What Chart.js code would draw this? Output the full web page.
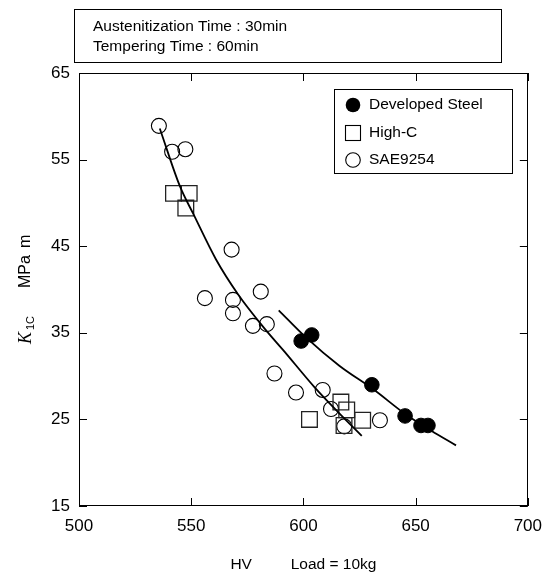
<!DOCTYPE html>
<html>
<head>
<meta charset="utf-8">
<script src="https://cdn.jsdelivr.net/npm/chart.js@4.4.0/dist/chart.umd.min.js"></script>
<style>
  html, body { margin: 0; padding: 0; background: #fff; }
  #wrap { width: 552px; height: 572px; }
</style>
</head>
<body>
<div id="wrap"><canvas id="toughChart" width="552" height="572"></canvas></div>
<script>
// hardness (HV) vs fracture toughness K1C
const developedHV = [599.0, 603.7, 630.5, 645.3, 652.4, 655.5];
const developedK = [34.05, 34.75, 29.0, 25.4, 24.3, 24.3];
const highCHV = [542.1, 549.1, 547.6, 602.7, 616.7, 619.3, 618.1, 626.4];
const highCK = [51.1, 51.1, 49.4, 25.0, 27.0, 26.1, 24.3, 24.9];
const saeHV = [535.6, 541.5, 547.4, 568.0, 556.1, 568.6, 568.6, 581.0, 577.5, 583.7, 587.1, 596.7, 608.6, 612.3, 618.2, 634.1];
const saeK = [58.9, 55.9, 56.2, 44.6, 39.0, 38.8, 37.25, 39.75, 35.8, 36.0, 30.3, 28.1, 28.4, 26.2, 24.2, 24.9];

// the two fitted curves
const saeFitHV = [536, 545, 551, 561, 571, 583, 591, 605, 616, 626];
const saeFitK = [58.6, 51.9, 48.7, 43.5, 39.4, 35.4, 33.0, 28.7, 25.7, 23.1];
const devFitHV = [589, 601, 616, 631, 646, 657, 668];
const devFitK = [37.6, 34.5, 31.2, 28.5, 25.5, 23.7, 22.0];

const xTicks = [500, 550, 600, 650, 700];
const yTicks = [15, 25, 35, 45, 55, 65];

const seriesNames = ['Developed Steel', 'High-C', 'SAE9254'];
const noteLines = ['Austenitization Time : 30min', 'Tempering Time : 60min'];

const pts = (xs, ys) => xs.map((x, i) => ({ x: x, y: ys[i] }));
const FONT = "'Liberation Sans', Arial, sans-serif";

// frame, inward ticks, the note box, the legend box and the y title
const extras = {
  id: 'extras',
  afterDraw(chart) {
    const { ctx, chartArea: a, scales } = chart;
    ctx.save();
    ctx.strokeStyle = '#000';
    ctx.lineWidth = 1;
    ctx.strokeRect(Math.round(a.left) + 0.5, Math.round(a.top) + 0.5, Math.round(a.width) - 1, Math.round(a.height) - 1);

    ctx.beginPath();
    xTicks.forEach(v => {
      const px = Math.round(scales.x.getPixelForValue(v)) + 0.5;
      ctx.moveTo(px, a.bottom); ctx.lineTo(px, a.bottom - 8);
      ctx.moveTo(px, a.top); ctx.lineTo(px, a.top + 8);
    });
    yTicks.forEach(v => {
      const py = Math.round(scales.y.getPixelForValue(v)) + 0.5;
      ctx.moveTo(a.left, py); ctx.lineTo(a.left + 8, py);
      ctx.moveTo(a.right, py); ctx.lineTo(a.right - 8, py);
    });
    ctx.stroke();

    // note box above the plot
    ctx.strokeRect(74.5, 9.5, 427, 53);
    ctx.fillStyle = '#000';
    ctx.font = '15.5px ' + FONT;
    ctx.textBaseline = 'middle';
    ctx.textAlign = 'left';
    ctx.fillText(noteLines[0], 93, 27);
    ctx.fillText(noteLines[1], 93, 47);

    // legend
    ctx.strokeRect(334.5, 89.5, 178, 84);
    const rowY = [105, 133, 160];
    const mx = 353;
    ctx.lineWidth = 1.1;
    ctx.beginPath(); ctx.arc(mx, rowY[0], 7.3, 0, Math.PI * 2); ctx.fill();
    ctx.strokeRect(mx - 7.5, rowY[1] - 7.5, 15, 15);
    ctx.beginPath(); ctx.arc(mx, rowY[2], 7.3, 0, Math.PI * 2); ctx.stroke();
    seriesNames.forEach((name, i) => ctx.fillText(name, 369, rowY[i]));

    // y axis title: K1C  MPa  m (rotated)
    ctx.textBaseline = 'alphabetic';
    const piece = (txt, font, bx, sy) => {
      ctx.save();
      ctx.translate(bx, sy);
      ctx.rotate(-Math.PI / 2);
      ctx.font = font;
      ctx.fillText(txt, 0, 0);
      ctx.restore();
    };
    piece('K', "italic 18px 'Liberation Serif', serif", 31, 344);
    piece('1C', '11px ' + FONT, 34, 330);
    piece('MPa', '16px ' + FONT, 30, 288);
    piece('m', '16px ' + FONT, 30, 248);
    ctx.restore();
  }
};

new Chart(document.getElementById('toughChart'), {
  type: 'scatter',
  data: {
    datasets: [
      {
        label: 'SAE9254 fit',
        data: pts(saeFitHV, saeFitK),
        showLine: true,
        borderColor: '#000',
        borderWidth: 1.8,
        pointRadius: 0,
        cubicInterpolationMode: 'monotone'
      },
      {
        label: 'Developed fit',
        data: pts(devFitHV, devFitK),
        showLine: true,
        borderColor: '#000',
        borderWidth: 1.8,
        pointRadius: 0,
        cubicInterpolationMode: 'monotone'
      },
      {
        label: seriesNames[0],
        data: pts(developedHV, developedK),
        pointStyle: 'circle',
        pointRadius: 7.3,
        backgroundColor: '#000',
        borderColor: '#000',
        borderWidth: 1
      },
      {
        label: seriesNames[1],
        data: pts(highCHV, highCK),
        pointStyle: 'rect',
        pointRadius: 11.1,
        backgroundColor: 'rgba(0,0,0,0)',
        borderColor: '#222',
        borderWidth: 1.3
      },
      {
        label: seriesNames[2],
        data: pts(saeHV, saeK),
        pointStyle: 'circle',
        pointRadius: 7.5,
        backgroundColor: 'rgba(0,0,0,0)',
        borderColor: '#000',
        borderWidth: 1.1
      }
    ]
  },
  options: {
    responsive: false,
    animation: false,
    events: [],
    layout: { padding: { top: 73, right: 23, left: 0, bottom: 0 } },
    plugins: { legend: { display: false }, tooltip: { enabled: false } },
    scales: {
      x: {
        type: 'linear',
        min: 500,
        max: 700,
        afterFit: s => { s.height = 66; },
        afterBuildTicks: s => { s.ticks = xTicks.map(v => ({ value: v })); },
        grid: { display: false, drawTicks: false },
        border: { display: false },
        ticks: { color: '#000', padding: 10, font: { family: FONT, size: 17 } },
        title: {
          display: true,
          text: 'HV         Load = 10kg',
          color: '#000',
          padding: 0,
          font: { family: FONT, size: 15.5, lineHeight: 1 }
        }
      },
      y: {
        type: 'linear',
        min: 15,
        max: 65,
        afterFit: s => { s.width = 79; },
        afterBuildTicks: s => { s.ticks = yTicks.map(v => ({ value: v })); },
        grid: { display: false, drawTicks: false },
        border: { display: false },
        ticks: { color: '#000', padding: 9, font: { family: FONT, size: 17 } }
      }
    }
  },
  plugins: [extras]
});
</script>
</body>
</html>
